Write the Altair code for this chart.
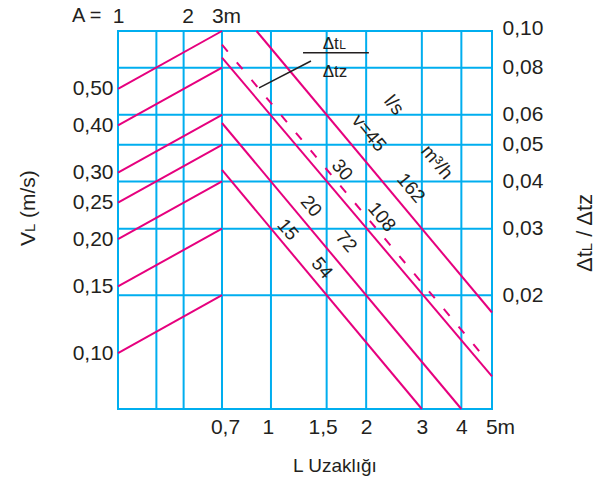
import altair as alt
import pandas as pd

CYAN = "#00aeef"
MAGENTA = "#e6007e"
INK = "#231f20"
FONT = "Liberation Sans"

# ---- tick / grid values -------------------------------------------------
A_TICKS = [1, 2, 3]                       # top scale (A, m)
A_GRID = [1.5, 2, 3]
L_TICKS = [0.7, 1, 1.5, 2, 3, 4, 5]       # bottom scale (L, m)
L_GRID = [0.7, 1, 1.5, 2, 3, 4]
V_TICKS = [0.10, 0.15, 0.20, 0.25, 0.30, 0.40, 0.50]   # left scale V_L (m/s)
R_TICKS = [0.02, 0.03, 0.04, 0.05, 0.06, 0.08, 0.10]   # right scale dtL/dtz

# ---- scale domains (log) --------------------------------------------------
A_DOMAIN = [1, 51.96]
L_DOMAIN = [0.3283, 5]
R_DOMAIN = [0.01, 0.1]
V_DOMAIN = [0.0711, 0.711]

# ---- left rising lines: V_L at A=1  ->  ratio at A=3 -------------------------
V_START = [0.10, 0.15, 0.20, 0.25, 0.30, 0.40, 0.50]
R_AT_A3 = [0.02, 0.03, 0.04, 0.05, 0.06, 0.08, 0.10]

# ---- right falling lines (flow rates) -----------------------------------------
FLOW_ID = ["45", "30", "20", "15"]
FLOW_L0 = [0.9, 0.7, 0.7, 0.7]
FLOW_R0 = [0.1, 0.085, 0.0571, 0.0429]
FLOW_L1 = [5, 5, 4.0, 3.0]
FLOW_R1 = [0.018, 0.0122, 0.01, 0.01]

DASH_L = [0.7, 4.8]
DASH_R = [0.092, 0.0135]

LEADER_L = [0.917, 1.338]
LEADER_R = [0.0707, 0.0833]
BAR_L = [1.263, 2.04]
BAR_R = [0.0876, 0.0876]

LABEL_TEXT = ["l/s", "v=45", "m³/h", "162", "30", "108", "20", "72", "15", "54"]
LABEL_L = [2.45, 2.04, 3.35, 2.77, 1.68, 2.24, 1.34, 1.73, 1.13, 1.45]
LABEL_R = [0.0637, 0.0537, 0.0450, 0.0384, 0.0429, 0.0322, 0.0344, 0.0277, 0.0298, 0.0236]

FRAC_L = 1.457
FRAC_TOP_R = 0.0896
FRAC_BOT_R = 0.0757

# ---- scales ---------------------------------------------------------------
sA = alt.Scale(type="log", domain=A_DOMAIN, nice=False)
sL = alt.Scale(type="log", domain=L_DOMAIN, nice=False)
sR = alt.Scale(type="log", domain=R_DOMAIN, nice=False)
sV = alt.Scale(type="log", domain=V_DOMAIN, nice=False)

K = R_DOMAIN[1] / V_DOMAIN[1]   # V-scale -> ratio-scale (same decade length)

# ---- tables ---------------------------------------------------------------
left_rows = []
for i, (v, r) in enumerate(zip(V_START, R_AT_A3)):
    left_rows.append({"id": i, "o": 0, "A": 1, "r": v * K})
    left_rows.append({"id": i, "o": 1, "A": 3, "r": r})
df_left = pd.DataFrame(left_rows)

flow_rows = []
for n, l0, r0, l1, r1 in zip(FLOW_ID, FLOW_L0, FLOW_R0, FLOW_L1, FLOW_R1):
    flow_rows.append({"id": n, "o": 0, "L": l0, "r": r0})
    flow_rows.append({"id": n, "o": 1, "L": l1, "r": r1})
df_flow = pd.DataFrame(flow_rows)

df_dash = pd.DataFrame({"L": DASH_L, "r": DASH_R, "o": [0, 1]})
df_leader = pd.DataFrame({"L": LEADER_L, "r": LEADER_R, "o": [0, 1]})
df_bar = pd.DataFrame({"L": BAR_L, "r": BAR_R, "o": [0, 1]})
df_labels = pd.DataFrame({"t": LABEL_TEXT, "L": LABEL_L, "r": LABEL_R})

# ---- axes -----------------------------------------------------------------
top_axis = alt.Axis(
    orient="top", values=A_TICKS, format="d",
    labelExpr="datum.value == 3 ? '3m' : datum.label",
    labelBaseline="alphabetic", labelPadding=9, labelFlush=False,
    labelOverlap=False, title=None,
    labelOffset={"condition": {"test": "datum.value == 1", "value": 0}, "value": 4},
)
bottom_axis = alt.Axis(
    orient="bottom", values=L_TICKS, format=".1~f",
    labelExpr="datum.value == 5 ? '5m' : replace(datum.label, '.', ',')",
    labelPadding=7, labelFlush=False, labelOverlap=False, title=None,
    labelOffset={"condition": [
        {"test": "datum.value == 5", "value": 8},
        {"test": "datum.value == 1.5", "value": -4},
        {"test": "datum.value == 1", "value": -3},
        {"test": "datum.value == 0.7", "value": 3},
    ], "value": 0},
)
left_axis = alt.Axis(
    orient="left", values=V_TICKS, format=".2f",
    labelExpr="replace(datum.label, '.', ',')",
    labelPadding=5, labelOverlap=False, title=None,
)
right_axis = alt.Axis(
    orient="right", values=R_TICKS, format=".2f",
    labelExpr="replace(datum.label, '.', ',')",
    labelPadding=10, labelOverlap=False, title=None,
    labelOffset={"condition": {"test": "datum.value == 0.1", "value": -3}, "value": 0},
)

# ---- layers ---------------------------------------------------------------
a_grid = alt.Chart(pd.DataFrame({"A": A_GRID})).mark_rule(
    color=CYAN, strokeWidth=2
).encode(x=alt.X("A:Q", scale=sA, axis=None))

a_axis_layer = alt.Chart(pd.DataFrame({"A": A_TICKS})).mark_point(opacity=0).encode(
    x=alt.X("A:Q", scale=sA, axis=top_axis)
)

l_grid = alt.Chart(pd.DataFrame({"L": L_GRID})).mark_rule(
    color=CYAN, strokeWidth=2
).encode(x=alt.X("L:Q", scale=sL, axis=None))

l_axis_layer = alt.Chart(pd.DataFrame({"L": L_TICKS})).mark_point(opacity=0).encode(
    x=alt.X("L:Q", scale=sL, axis=bottom_axis)
)

r_grid = alt.Chart(pd.DataFrame({"r": R_TICKS})).mark_rule(
    color=CYAN, strokeWidth=2
).encode(y=alt.Y("r:Q", scale=sR, axis=right_axis))

v_axis_layer = alt.Chart(pd.DataFrame({"v": V_TICKS})).mark_point(opacity=0).encode(
    y=alt.Y("v:Q", scale=sV, axis=left_axis)
)

left_lines = alt.Chart(df_left).mark_line(color=MAGENTA, strokeWidth=2).encode(
    x=alt.X("A:Q", scale=sA, axis=None),
    y=alt.Y("r:Q", scale=sR, axis=None),
    detail="id:N", order="o:Q",
)

flow_lines = alt.Chart(df_flow).mark_line(color=MAGENTA, strokeWidth=2).encode(
    x=alt.X("L:Q", scale=sL, axis=None),
    y=alt.Y("r:Q", scale=sR, axis=None),
    detail="id:N", order="o:Q",
)

dash_line = alt.Chart(df_dash).mark_line(
    color=MAGENTA, strokeWidth=2, strokeDash=[9, 14]
).encode(
    x=alt.X("L:Q", scale=sL, axis=None),
    y=alt.Y("r:Q", scale=sR, axis=None),
    order="o:Q",
)

leader = alt.Chart(df_leader).mark_line(color=INK, strokeWidth=1.5).encode(
    x=alt.X("L:Q", scale=sL, axis=None),
    y=alt.Y("r:Q", scale=sR, axis=None),
    order="o:Q",
)

bar = alt.Chart(df_bar).mark_line(color=INK, strokeWidth=1.5).encode(
    x=alt.X("L:Q", scale=sL, axis=None),
    y=alt.Y("r:Q", scale=sR, axis=None),
    order="o:Q",
)

labels = alt.Chart(df_labels).mark_text(
    angle=50, font=FONT, fontSize=19, color=INK, align="center", baseline="middle"
).encode(
    x=alt.X("L:Q", scale=sL, axis=None),
    y=alt.Y("r:Q", scale=sR, axis=None),
    text="t:N",
)


def frac_text(txt, r, size, dx=0):
    return alt.Chart(pd.DataFrame({"t": [txt], "L": [FRAC_L], "r": [r]})).mark_text(
        font=FONT, fontSize=size, color=INK, align="left", baseline="alphabetic", dx=dx
    ).encode(
        x=alt.X("L:Q", scale=sL, axis=None),
        y=alt.Y("r:Q", scale=sR, axis=None),
        text="t:N",
    )


frac1 = frac_text("Δt", FRAC_TOP_R, 17)
frac1b = frac_text("L", FRAC_TOP_R, 12, dx=16.5)
frac2 = frac_text("Δtz", FRAC_BOT_R, 17)


def px_text(txt, x, y, size, angle=0, align="left", baseline="alphabetic"):
    return alt.Chart(pd.DataFrame({"t": [txt]})).mark_text(
        font=FONT, fontSize=size, color=INK, align=align, baseline=baseline, angle=angle
    ).encode(x=alt.value(x), y=alt.value(y), text="t:N")


titles = [
    px_text("V", -83, 215, 21, angle=270),
    px_text("L", -83, 201, 15, angle=270),
    px_text("(m/s)", -83, 187, 21, angle=270),
    px_text("Δt", 474, 241, 22, angle=270),
    px_text("L", 474, 220.2, 15, angle=270),
    px_text("/ Δtz", 474, 205.8, 22, angle=270),
    px_text("L Uzaklığı", 217, 440.7, 19, align="center"),
    px_text("A =", -46, -9.3, 20),
]

chart = alt.layer(
    a_grid, l_grid, r_grid,
    a_axis_layer, l_axis_layer, v_axis_layer,
    left_lines, flow_lines, dash_line, leader, bar,
    labels, frac1, frac1b, frac2,
    *titles,
).resolve_scale(
    x="independent", y="independent"
).properties(
    width=374, height=378,
    padding={"left": 118, "top": 31, "right": 118, "bottom": 74},
    autosize=alt.AutoSizeParams(type="none"),
    background="white",
).configure_view(
    stroke=CYAN, strokeWidth=2
).configure_axis(
    labelFont=FONT, labelFontSize=21, labelColor=INK,
    domain=False, ticks=False, grid=False,
)

chart.save("out.html", embed_options={"renderer": "svg", "actions": False})
